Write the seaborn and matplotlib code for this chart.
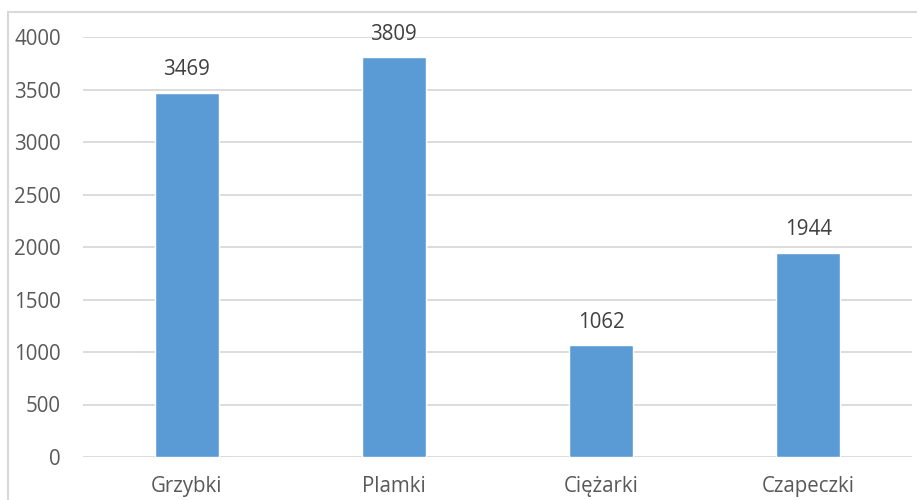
import matplotlib
matplotlib.use("Agg")
import matplotlib.pyplot as plt
import seaborn as sns
import pandas as pd
from matplotlib.patches import Rectangle

categories = ["Grzybki", "Plamki", "Ciężarki", "Czapeczki"]
values = [3469, 3809, 1062, 1944]
yticks = [0, 500, 1000, 1500, 2000, 2500, 3000, 3500, 4000]

sns.set_theme(style="white")
plt.rcParams['font.family'] = ['Open Sans', 'DejaVu Sans']

W, H = 917, 500
FS = 14.8
fig = plt.figure(figsize=(W / 100, H / 100), dpi=100)
ax = fig.add_axes([83 / W, 1 - 457 / H, (912 - 83) / W, 420 / H])

df = pd.DataFrame({"cat": categories, "val": values})
sns.barplot(data=df, x="cat", y="val", color="#5B9BD5", saturation=1,
            width=0.31, ax=ax, zorder=3)

ax.set_ylim(0, 4000)
ax.set_yticks(yticks)
ax.set_xlabel("")
ax.set_ylabel("")
ax.yaxis.grid(True, color="#D9D9D9", linewidth=1.3, zorder=0)
ax.set_axisbelow(True)
for s in ax.spines.values():
    s.set_visible(False)
ax.tick_params(axis="both", length=0, labelsize=FS, labelcolor="#595959")
ax.tick_params(axis="y", pad=15.8)
ax.tick_params(axis="x", pad=14)
for lbl in ax.get_yticklabels():
    lbl.set_horizontalalignment("right")

for i, v in enumerate(values):
    ax.annotate(str(v), (i, v), xytext=(0, 9), textcoords="offset points",
                ha="center", va="bottom", fontsize=FS, color="#404040")

fig.patches.append(Rectangle((8 / W, -0.1), 1.2, 1 - 12 / H + 0.1,
                             transform=fig.transFigure, fill=False,
                             edgecolor="#D9D9D9", linewidth=1.5))

fig.savefig("out.png", dpi=100, facecolor="white")
